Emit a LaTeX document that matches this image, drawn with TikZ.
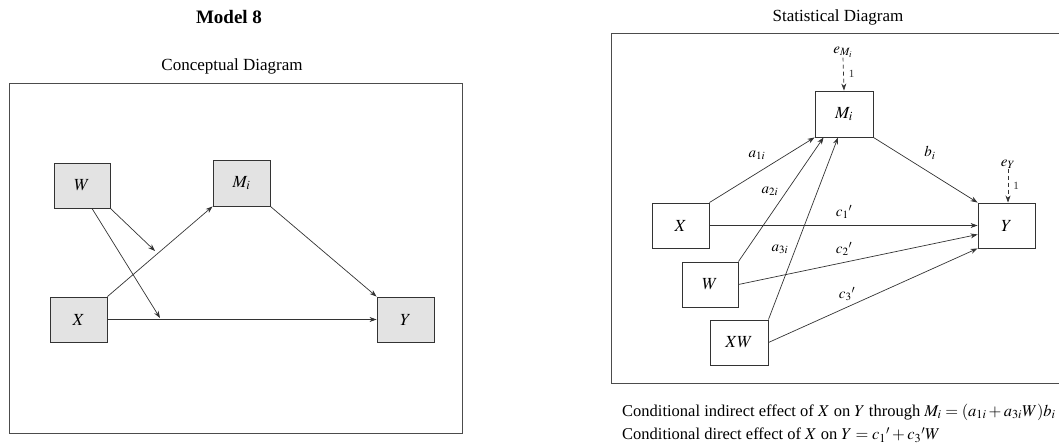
\documentclass[tikz,border=0pt]{standalone}
\usepackage{mathptmx}
\usepackage[no-math]{fontspec}
\setmainfont{Liberation Serif}
\usetikzlibrary{arrows.meta}

\tikzset{
  cbox/.style={draw=black!80, fill=black!11, line width=0.9pt, inner sep=0pt,
    minimum width=57pt, minimum height=45pt, font=\fontsize{17}{20}\selectfont},
  sbox/.style={cbox, fill=white},
  arr/.style={-{Stealth[length=7pt,width=5pt]}, line width=0.7pt, black!80},
  lab/.style={font=\fontsize{15}{17}\selectfont, inner sep=0pt},
  frame/.style={line width=0.9pt, black!70},
}

\begin{document}
\begin{tikzpicture}[x=1pt,y=-1pt]
  \useasboundingbox (0,0) rectangle (1059,446);
  % conceptual diagram
  \node[font=\bfseries\fontsize{19}{22}\selectfont] (title) at (229,17) {Model 8};
  \node[font=\fontsize{17}{20}\selectfont] (ctitle) at (232,66) {Conceptual Diagram};
  \draw[frame] (9,83) rectangle (462,433);
  \node[cbox, minimum width=56pt] (W) at (82,185.5) {$W$};
  \node[cbox, minimum height=46pt] (M) at (241.5,183) {$M_i$};
  \node[cbox] (X) at (78.5,319.5) {$X$};
  \node[cbox] (Y) at (405.5,319.5) {$Y$};
  \coordinate (m1) at (155,251);
  \coordinate (m2) at (160,318);
  \draw[arr] (X.north east) -- (M.south west);
  \draw[arr] (M.south east) -- (Y.north west);
  \draw[arr] (X.east) -- (Y.west);
  \draw[arr] (W.south east) -- (m1);
  \draw[arr] ([xshift=10pt]W.south) -- (m2);
  % statistical diagram
  \node[font=\fontsize{17}{20}\selectfont] (stitle) at (838,17) {Statistical Diagram};
  \draw[frame] (1059,33) -- (611,33) -- (611,383) -- (1059,383);
  \node[sbox, minimum width=58pt, minimum height=46pt] (Ms) at (844,114) {$M_i$};
  \node[sbox] (Xs) at (680.5,225.5) {$X$};
  \node[sbox] (Ys) at (1006.5,225.5) {$Y$};
  \node[sbox, minimum width=56pt] (Ws) at (710,284.5) {$W$};
  \node[sbox, minimum width=58pt] (XWs) at (739,342.5) {$XW$};
  \node[lab] (eM) at (843,52) {$e_{M_i}$};
  \node[lab] (eY) at (1008,164) {$e_Y$};
  \draw[arr, dashed, dash pattern=on 4pt off 3pt] (eM.south) -- (Ms.north) node[lab, midway, right=5pt, font=\fontsize{11}{13}\selectfont] {1};
  \draw[arr, dashed, dash pattern=on 4pt off 3pt] (eY.south) -- ([xshift=1.5pt]Ys.north) node[lab, midway, right=5pt, font=\fontsize{11}{13}\selectfont] {1};
  \draw[arr] (Xs.north east) -- (Ms.south west);
  \draw[arr] (Ws.north east) -- ([xshift=9pt]Ms.south west);
  \draw[arr] (XWs.north east) -- ([xshift=-6pt]Ms.south);
  \draw[arr] (Ms.south east) -- (Ys.north west);
  \draw[arr] (Xs.east) -- (Ys.west);
  \draw[arr] (Ws.east) -- ([yshift=-9pt]Ys.west);
  \draw[arr] (XWs.east) -- (Ys.south west);
  \path (757,155) node[lab] (a1) {$a_{1i}$}
    (770,191) node[lab] (a2) {$a_{2i}$}
    (780,249) node[lab] (a3) {$a_{3i}$}
    (930,153) node[lab] (b) {$b_i$}
    (844,212) node[lab] (c1) {$c_1{}'$}
    (844,249) node[lab] (c2) {$c_2{}'$}
    (847,294) node[lab] (c3) {$c_3{}'$};
  % effects
  \node[anchor=west, inner sep=0pt, font=\fontsize{16.5}{19}\selectfont] (ind) at (622,412)
    {Conditional indirect effect of $X$ on $Y$ through $M_i = (a_{1i} + a_{3i}W)b_i$};
  \node[anchor=west, inner sep=0pt, font=\fontsize{16.5}{19}\selectfont] (dir) at (622,435)
    {Conditional direct effect of $X$ on $Y = c_1{}' + c_3{}'W$};
\end{tikzpicture}
\end{document}
